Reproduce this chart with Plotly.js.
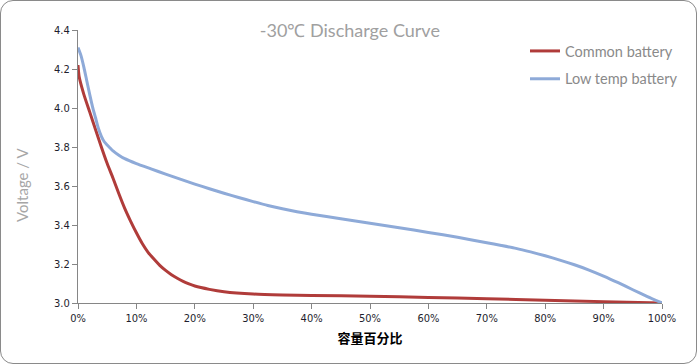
<!DOCTYPE html>
<html>
<head>
<meta charset="utf-8">
<script src="https://cdn.plot.ly/plotly-3.0.1.min.js"></script>
<style>
html,body{margin:0;padding:0;background:#fff;}
#wrap{position:relative;width:697px;height:364px;}
#chart{position:absolute;left:0;top:0;width:697px;height:364px;}
#frame{position:absolute;left:0;top:0;width:697px;height:364px;box-sizing:border-box;border:1.5px solid #8a8a8a;border-radius:13px;pointer-events:none;}
</style>
</head>
<body>
<div id="wrap"><div id="chart"></div><div id="frame"></div></div>
<script>
const commonX = [0, 0.2, 1, 2, 3, 4, 5, 6, 7, 8, 9, 10, 11, 12, 13, 14, 15, 16, 17, 18, 19, 20, 22.5, 25, 30, 35, 40, 50, 60, 70, 80, 90, 100];
const commonY = [4.22, 4.16, 4.07, 3.98, 3.89, 3.80, 3.715, 3.64, 3.56, 3.485, 3.42, 3.36, 3.305, 3.26, 3.225, 3.193, 3.167, 3.145, 3.127, 3.111, 3.098, 3.087, 3.07, 3.058, 3.046, 3.041, 3.038, 3.035, 3.028, 3.022, 3.014, 3.007, 3.0];
const lowX = [0, 0.5, 1, 1.5, 2, 2.5, 3, 3.5, 4, 4.5, 5, 5.5, 6, 7, 8, 10, 12.5, 15, 17.5, 20, 22.5, 25, 27.5, 30, 32.5, 35, 37.5, 40, 45, 50, 55, 60, 65, 70, 72.5, 75, 77.5, 80, 82.5, 85, 87.5, 90, 92.5, 95, 97.5, 100];
const lowY = [4.31, 4.27, 4.21, 4.14, 4.07, 4.005, 3.95, 3.895, 3.855, 3.827, 3.81, 3.795, 3.78, 3.758, 3.74, 3.715, 3.688, 3.661, 3.635, 3.61, 3.586, 3.563, 3.541, 3.52, 3.50, 3.483, 3.468, 3.455, 3.432, 3.409, 3.386, 3.362, 3.337, 3.309, 3.295, 3.28, 3.262, 3.242, 3.22, 3.196, 3.169, 3.138, 3.104, 3.068, 3.033, 3.0];
const xTicks = [0, 10, 20, 30, 40, 50, 60, 70, 80, 90, 100];
const yTicks = [3.0, 3.2, 3.4, 3.6, 3.8, 4.0, 4.2, 4.4];
const seriesNames = ['Common battery', 'Low temp battery'];
const titleText = '-30℃ Discharge Curve';
const xTitle = '容量百分比';
const yTitle = 'Voltage / V';

const tickFont = {family: 'DejaVu Sans Condensed, DejaVu Sans, sans-serif', size: 11, color: '#1e1e2e'};
const traces = [
  {x: commonX, y: commonY, name: seriesNames[0], mode: 'lines', legendgroup: 'a',
   line: {color: '#b03c3a', width: 3, shape: 'spline', smoothing: 0.6}},
  {x: lowX, y: lowY, name: seriesNames[1], mode: 'lines', legendgroup: 'b',
   line: {color: '#8eaad8', width: 3, shape: 'spline', smoothing: 0.6}}
];
const layout = {
  width: 697, height: 364,
  margin: {l: 78, r: 35, t: 30, b: 61},
  paper_bgcolor: 'rgba(0,0,0,0)', plot_bgcolor: '#fff',
  title: {text: titleText, x: 0.502, xref: 'container', xanchor: 'center', y: 1 - 31/364, yanchor: 'middle',
          font: {family: 'Lato, sans-serif', size: 18, color: '#a0a0a0'}},
  xaxis: {range: [0, 100], tickvals: xTicks, ticktext: xTicks.map(v => v + '%'),
          showgrid: false, zeroline: false, showline: true, linecolor: '#868686', linewidth: 1,
          ticks: 'outside', ticklen: 5, tickcolor: '#868686', tickfont: tickFont,
          title: {text: xTitle, standoff: 9, font: {family: 'Noto Sans CJK SC, sans-serif', size: 13, color: '#000', weight: 'bold'}}},
  yaxis: {range: [3.0, 4.4], tickvals: yTicks, ticktext: yTicks.map(v => v.toFixed(1)),
          showgrid: false, zeroline: false, showline: true, linecolor: '#868686', linewidth: 1,
          ticks: 'outside', ticklen: 5, tickcolor: '#868686', tickfont: tickFont},
  showlegend: true,
  legend: {x: (525 - 78) / 584, xanchor: 'left', y: 1 - 5/273, yanchor: 'top', traceorder: 'grouped', tracegroupgap: 6,
           font: {family: 'Lato, sans-serif', size: 14.5, color: '#8a8a8a'}, bgcolor: 'rgba(0,0,0,0)'},
  annotations: [{text: yTitle, xref: 'paper', yref: 'paper', x: (22 - 78) / 584, y: (303 - 185) / 273,
                 xanchor: 'center', yanchor: 'middle', textangle: -90, showarrow: false,
                 font: {family: 'Lato, sans-serif', size: 15, color: '#a6a6a6'}}]
};
Plotly.newPlot('chart', traces, layout, {displayModeBar: false, staticPlot: true});
</script>
</body>
</html>
